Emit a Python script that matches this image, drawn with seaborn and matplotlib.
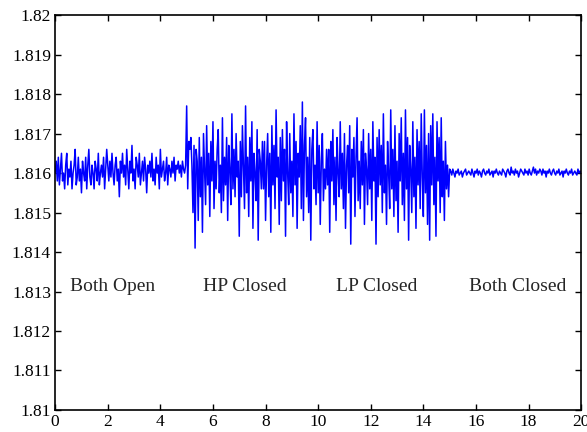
import numpy as np
import matplotlib
matplotlib.use("Agg")
import matplotlib.pyplot as plt
import matplotlib.ticker as mticker
import seaborn as sns

# deviations from 1.816, in units of 1e-4
base = 1.816
both_open = [0, 3, -2, 4, -3, 1, 5, -2, 0, -4, 2, 5, -3, 1, -1, 3, -4, 0, 2, 6, -3, -1, 4, -2, 1,
             -5, 3, 0, -2, 4, -4, 2, 6, -1, -3, 2, 0, -4, 3, 1, -2, 5, -3, 0, 2, -1, 4, -4, 1, 6,
             2, -2, 3, -1, 5, 0, -3, 2, 4, -2, 1, -6, 3, 0, 5, -1, 2, -3, 6, 1, -4, 3, 0, 7, -2,
             1, -4, 4, 2, -1, 5, -3, 0, 3, -2, 4, 1, -5, 2, 0, 3, -1, 5, -2, 1, -3, 4, 0, 2, -4,
             6, -1, 1, 3, -2, 0, 4, -3, 2, 1, -1, 3, 0, 4, -2, 2, 1, 3, 0, 2, -1, 3, 1, 0, 2]
valves_closed = [17, -4, 8, 6, 9, 2, -10, 7, -19, 6, 3, -12, 9, -6, 4, -15, 10, 1, -8, 12, -3, 5, -11, 8, -2,
                 13, -9, 3, -4, 6, 11, -5, 2, -10, 14, -7, 4, -3, 9, -12, 7, 1, -8, 15, -4, 6, -6, 10, -1, 3,
                 -16, 8, -6, 12, 2, -9, 17, -5, 4, -11, 9, -2, 13, -14, 5, 0, -7, 11, -17, 6, 3, -4, 8, -4, 8,
                 -12, 2, 10, -6, 5, -15, 12, -3, 7, -9, 16, -1, 4, -13, 9, -7, 11, -2, 6, -16, 13, 0, -8, 10, -5,
                 3, -11, 15, -3, 8, -14, 5, -1, 12, -9, 18, -12, 7, 14, -6, 4, -10, 9, -17, 6, 11, -4, 2, -8, 13,
                 -5, 7, -13, 3, 10, -7, 1, -4, 6, -3, 6, -15, 8, -2, 11, -8, 4, -12, 9, 0, -6, 13, -4, 5, -9,
                 10, -14, 2, 7, -5, 12, -18, 6, -1, 9, -11, 4, 14, -7, 3, -9, 8, -3, 11, -13, 5, 1, -8, 10, -4,
                 6, -12, 13, -2, 4, -18, 9, -6, 11, -3, 7, -10, 15, -5, 2, -13, 8, 0, -9, 16, -4, 6, -11, 12, -7,
                 3, -15, 10, -2, 14, -8, 5, -12, 16, -4, 9, -17, 7, 1, -10, 13, -6, 4, -14, 11, -3, 8, -9, 15, -1,
                 -11, 16, -5, 7, -13, 10, -17, 12, -3, 15, -8, 4, -16, 13, -2, 9, -10, 14, -6, 3, -12, 8, -4, 2, -6]
both_closed = [1, 0.5, -0.5, 1, 0, -1, 0.5, 0, 1, -0.5, 0, 0.5, -1, 0, 0.5, 1, -0.5, 0, 0.5, 0, -0.5, 1, 0, -1, 0.5,
               0, 1, -0.5, 0.5, 0, -1, 0.5, 1, 0, -0.5, 0.5, 0, 1, -0.5, 0, 0.5, -1, 0.5, 0, 1, 0, -0.5, 0.5, 0, -0.5,
               1, 0.5, 0, -1, 0.5, 1, 0, -0.5, 1.5, 0, 0.5, -0.5, 1, 0, 0.5, -1, 0, 1, 0.5, 0, -0.5, 1, 0, 0.5, -0.5,
               1, 0, -0.5, 0.5, 1.5, 0, 1, -0.5, 0.5, 0, 1, 0.5, -0.5, 1, 0, 0.5, -1, 0.5, 0, 1, 0, -0.5, 0.5, 1, 0,
               -0.5, 0.5, 0, 1, -0.5, 0, 0.5, -1, 0.5, 0, 1, 0, -0.5, 0.5, 0, 1, -0.5, 0, 0.5, 0, -0.5, 1, 0, 0.5, 0]

labels = ["Both Open", "HP Closed", "LP Closed", "Both Closed"]
label_x = [2.17, 7.22, 12.24, 17.57]
label_y = 1.81312

# time axis for each segment
t = np.concatenate([np.linspace(0, 5, len(both_open), endpoint=False),
                    np.linspace(5, 15, len(valves_closed), endpoint=False),
                    np.linspace(15, 20, len(both_closed))])
y = base + np.array(both_open + valves_closed + both_closed, dtype=float) * 1e-4

sns.set_style("ticks")
plt.rcParams['font.family'] = ['Liberation Serif', 'DejaVu Serif']

fig = plt.figure(figsize=(5.87, 4.32), dpi=100)
ax = fig.add_axes([0.094, 0.051, 0.896, 0.914])
sns.lineplot(x=t, y=y, ax=ax, color='#0000ff', linewidth=1.1)

for lab, lx in zip(labels, label_x):
    ax.text(lx, label_y, lab, ha='center', va='center', fontsize=14)

ax.set_xlim(0, 20)
ax.set_ylim(1.81, 1.82)
ax.set_xticks(np.arange(0, 21, 2))
ax.set_yticks(np.linspace(1.81, 1.82, 11))
ax.yaxis.set_major_formatter(mticker.FuncFormatter(lambda v, p: '%g' % round(v, 4)))
ax.tick_params(direction='in', top=True, right=True, length=4, width=1,
               labelsize=12.5, colors='black', pad=3)
for s in ax.spines.values():
    s.set_linewidth(1.2)
    s.set_color('black')

fig.savefig("out.png", dpi=100)
